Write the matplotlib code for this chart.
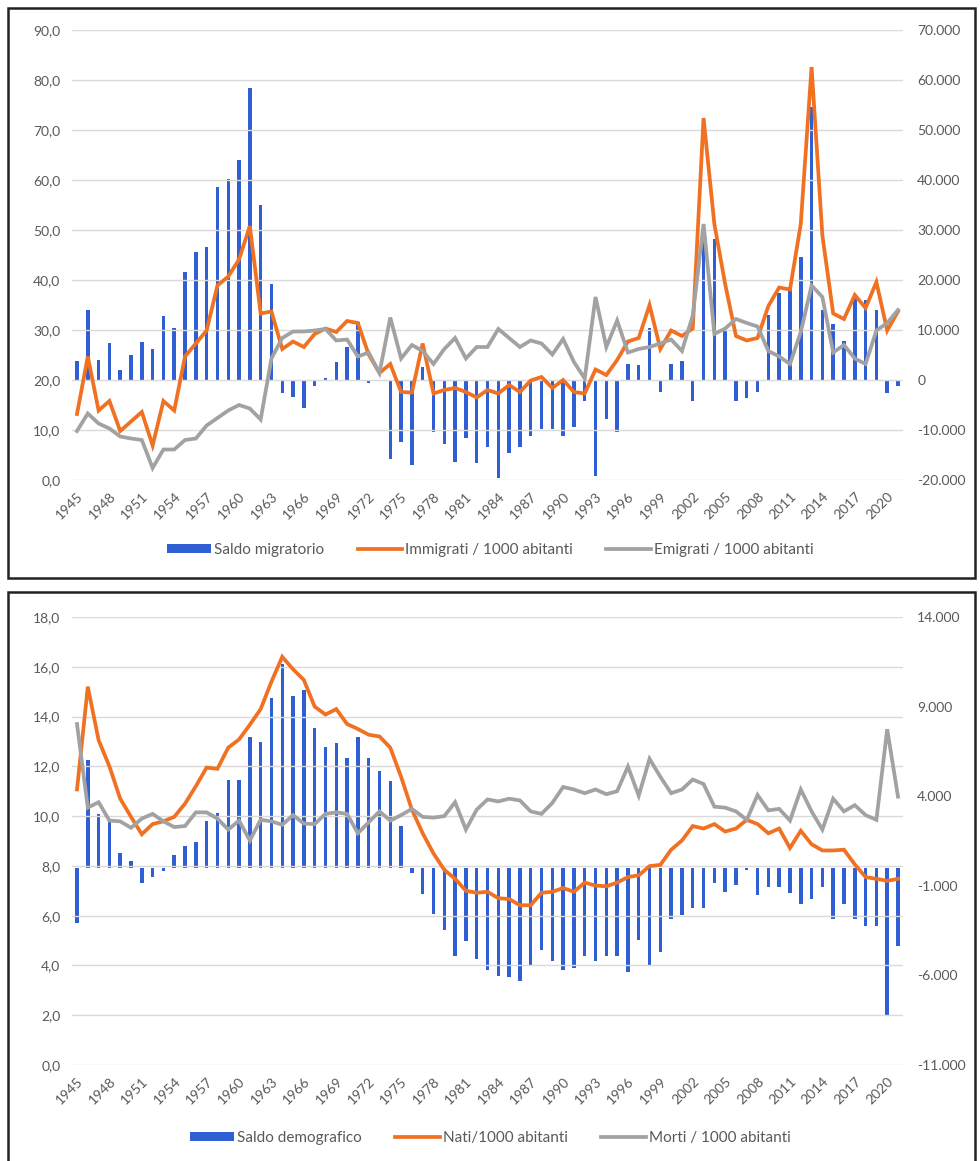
import matplotlib
matplotlib.use("Agg")
import matplotlib.pyplot as plt
from matplotlib.patches import Rectangle, Patch
from matplotlib.lines import Line2D
from matplotlib.ticker import FuncFormatter, MultipleLocator, FixedLocator

plt.rcParams['font.family'] = ['Lato', 'DejaVu Sans']

# --- data -------------------------------------------------------------
years = list(range(1945, 2022))

saldo_migratorio = [
    3750, 13900, 4000, 7300, 1900, 4900, 7600, 6200, 12700, 10300,
    21600, 25600, 26500, 38600, 40100, 44000, 58400, 34900, 19100, -2700,
    -3500, -5700, -1200, 300, 3600, 6600, 11600, -600, -200, -15800,
    -12400, -17100, 2500, -10500, -12800, -16500, -11700, -16700, -13500, -19700,
    -14600, -13500, -11300, -9800, -9800, -11300, -9400, -4200, -19300, -7900,
    -10500, 3200, 2900, 10300, -2400, 3200, 3750, -4200, 31000, 28100,
    9800, -4200, -3700, -2500, 12900, 17400, 18500, 24600, 54500, 14000,
    11200, 7700, 16300, 15900, 14000, -2700, -1200,
]
immigrati = [
    13.2, 24.7, 13.9, 15.8, 9.8, 11.7, 13.6, 6.9, 15.8, 13.9,
    24.7, 27.3, 29.9, 38.9, 40.7, 44.1, 50.8, 33.3, 33.7, 26.2,
    27.7, 26.6, 29.2, 30.3, 29.6, 31.8, 31.4, 25.1, 21.4, 23.2,
    17.6, 17.5, 27.3, 17.3, 18.0, 18.4, 17.6, 16.5, 18.0, 17.3,
    19.0, 17.6, 19.9, 20.6, 18.4, 20.0, 17.6, 17.3, 22.1, 21.0,
    24.0, 27.7, 28.4, 35.0, 26.2, 29.9, 28.8, 30.3, 72.4, 51.2,
    39.2, 28.8, 27.9, 28.4, 34.8, 38.5, 38.1, 51.2, 82.6, 48.9,
    33.3, 32.2, 37.0, 34.4, 39.6, 29.9, 33.7,
]
emigrati = [
    9.8, 13.3, 11.3, 10.3, 8.7, 8.3, 8.0, 2.4, 6.1, 6.1,
    8.0, 8.3, 10.9, 12.4, 13.9, 15.0, 14.3, 12.1, 24.3, 28.4,
    29.7, 29.7, 29.9, 30.2, 27.9, 28.1, 24.7, 25.5, 21.4, 32.5,
    24.3, 27.0, 25.8, 23.2, 26.2, 28.4, 24.3, 26.6, 26.6, 30.2,
    28.4, 26.6, 27.9, 27.3, 25.1, 28.2, 23.6, 20.3, 36.6, 26.6,
    31.9, 25.5, 26.2, 26.6, 27.3, 28.1, 25.8, 32.9, 51.2, 29.2,
    30.3, 32.2, 31.4, 30.7, 25.8, 24.7, 23.2, 29.6, 38.9, 36.6,
    25.5, 27.0, 24.3, 23.2, 29.9, 31.4, 34.0,
]

saldo_demografico = [
    -3100, 6000, 3000, 2600, 850, 400, -820, -500, -200, 700,
    1200, 1460, 2600, 3050, 4900, 4900, 7300, 7000, 9500, 11400,
    9600, 9900, 7800, 6750, 6960, 6140, 7320, 6140, 5390, 4840,
    2340, -310, -1430, -2550, -3470, -4890, -4080, -5100, -5700, -6010,
    -6070, -6320, -5500, -4590, -5200, -5700, -5600, -4890, -5200, -4890,
    -4890, -5810, -4040, -5500, -4690, -2860, -2650, -2250, -2250, -820,
    -1330, -980, -110, -1530, -1060, -1060, -1390, -2000, -1740, -1060,
    -2860, -2000, -2860, -3260, -3260, -8250, -4380,
]
nati = [
    11.07, 15.2, 13.05, 12.0, 10.7, 9.97, 9.27, 9.68, 9.79, 9.97,
    10.5, 11.2, 11.95, 11.9, 12.75, 13.08, 13.67, 14.3, 15.4, 16.4,
    15.9, 15.47, 14.4, 14.08, 14.3, 13.7, 13.5, 13.27, 13.2, 12.75,
    11.58, 10.26, 9.31, 8.5, 7.84, 7.48, 7.0, 6.92, 6.96, 6.7,
    6.67, 6.42, 6.42, 6.92, 6.96, 7.11, 6.96, 7.33, 7.21, 7.18,
    7.33, 7.55, 7.62, 7.99, 8.04, 8.65, 9.02, 9.6, 9.5, 9.68,
    9.38, 9.5, 9.85, 9.68, 9.31, 9.5, 8.72, 9.41, 8.87, 8.62,
    8.62, 8.65, 8.06, 7.55, 7.48, 7.40, 7.48,
]
morti = [
    13.7, 10.34, 10.56, 9.82, 9.79, 9.53, 9.9, 10.09, 9.79, 9.56,
    9.6, 10.15, 10.15, 9.9, 9.46, 9.82, 9.02, 9.85, 9.79, 9.65,
    10.04, 9.7, 9.68, 10.09, 10.15, 10.09, 9.31, 9.75, 10.19, 9.82,
    10.04, 10.29, 9.97, 9.94, 10.0, 10.56, 9.46, 10.26, 10.67, 10.59,
    10.7, 10.63, 10.19, 10.09, 10.53, 11.17, 11.07, 10.92, 11.07, 10.88,
    11.0, 11.99, 10.82, 12.3, 11.58, 10.92, 11.07, 11.47, 11.29, 10.38,
    10.34, 10.19, 9.85, 10.85, 10.23, 10.29, 9.82, 11.07, 10.19, 9.46,
    10.7, 10.19, 10.44, 10.04, 9.85, 13.49, 10.78,
]

BLUE = '#2F5FD3'
ORANGE = '#F07122'
GRAY = '#A2A2A2'
TEXT = '#595959'
W, H = 980, 1161


def left_fmt(v, pos):
    return '{:.1f}'.format(v).replace('.', ',')


def right_fmt(v, pos):
    return '{:,}'.format(int(round(v))).replace(',', '.')


def draw_panel(fig, ax_px, bars, line1, line2, names, left_max, left_step,
               right_lim, right_step, legend_y):
    x0, y0, x1, y1 = ax_px  # pixel box of the plot area (top-left origin)
    ax = fig.add_axes([x0 / W, 1 - y1 / H, (x1 - x0) / W, (y1 - y0) / H])
    ax2 = ax.twinx()
    # lines in front of bars
    ax.set_zorder(ax2.get_zorder() + 1)
    ax.patch.set_visible(False)

    idx = list(range(len(years)))
    ax2.bar(idx, bars, width=0.32, color=BLUE, zorder=2)
    ax.plot(idx, line1, color=ORANGE, lw=2.7, solid_joinstyle='miter', zorder=3)
    ax.plot(idx, line2, color=GRAY, lw=2.7, solid_joinstyle='miter', zorder=4)

    ax.set_xlim(-0.5, len(years) - 0.5)
    ax.set_ylim(0, left_max)
    ax2.set_ylim(*right_lim)
    ax.yaxis.set_major_locator(MultipleLocator(left_step))
    # right ticks start from the bottom of the range
    ax2.set_yticks(range(right_lim[0], right_lim[1] + 1, right_step))
    ax.yaxis.set_major_formatter(FuncFormatter(left_fmt))
    ax2.yaxis.set_major_formatter(FuncFormatter(right_fmt))

    ax.xaxis.set_major_locator(FixedLocator(idx[::3]))
    ax.set_xticklabels([str(y) for y in years[::3]], rotation=45,
                       ha='right', va='top', rotation_mode='anchor')

    ax.grid(axis='y', color='#DADADA', lw=1.0, zorder=0)
    for a in (ax, ax2):
        for s in a.spines.values():
            s.set_visible(False)
        a.tick_params(length=0, labelsize=10, labelcolor=TEXT)
    ax.tick_params(axis='x', pad=7)
    ax.tick_params(axis='y', pad=8)
    ax2.tick_params(axis='y', pad=10)

    handles = [
        Patch(facecolor=BLUE, edgecolor='none'),
        Line2D([], [], color=ORANGE, lw=2.7),
        Line2D([], [], color=GRAY, lw=2.7),
    ]
    fig.legend(handles, names, loc='center', bbox_to_anchor=(0.5, 1 - legend_y / H),
               ncol=3, frameon=False, fontsize=11, labelcolor=TEXT,
               handlelength=2.9, handleheight=0.5, handletextpad=0.2,
               columnspacing=2.2)


fig = plt.figure(figsize=(W / 100, H / 100), dpi=100)

# panel frames
fig.patches.append(Rectangle((8 / W, 1 - 578 / H), 967 / W, 570 / H,
                             transform=fig.transFigure, fill=False,
                             edgecolor='#222222', lw=1.8))
fig.patches.append(Rectangle((8 / W, 1 - 1175 / H), 967 / W, 583 / H,
                             transform=fig.transFigure, fill=False,
                             edgecolor='#222222', lw=1.8))

draw_panel(fig, (71.6, 30, 903.4, 480), saldo_migratorio, immigrati, emigrati,
           ['Saldo migratorio', 'Immigrati / 1000 abitanti', 'Emigrati / 1000 abitanti'],
           90, 10, (-20000, 70000), 10000, 550)

draw_panel(fig, (71.6, 617, 903.4, 1065), saldo_demografico, nati, morti,
           ['Saldo demografico', 'Nati/1000 abitanti', 'Morti / 1000 abitanti'],
           18, 2, (-11000, 14000), 5000, 1138)

fig.savefig('out.png', dpi=100, facecolor='white')
